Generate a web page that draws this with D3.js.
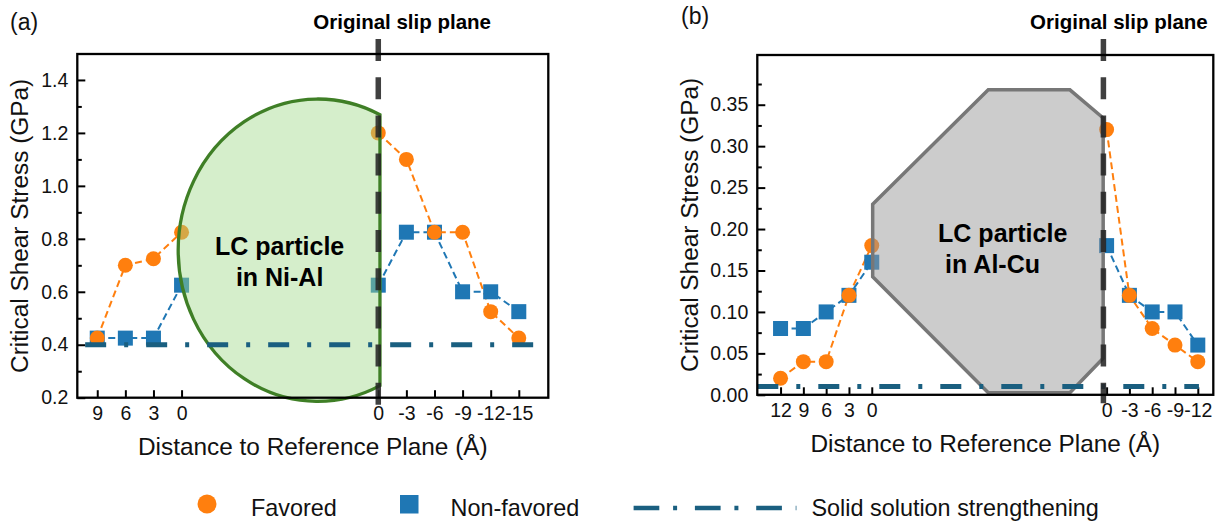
<!DOCTYPE html>
<html>
<head>
<meta charset="utf-8">
<script src="https://cdn.jsdelivr.net/npm/d3@7"></script>
<style>
  body { margin: 0; background: #fff; }
  svg { display: block; font-family: "Liberation Sans", Arial, sans-serif; }
</style>
</head>
<body>
<div id="chart"></div>
<script>
var WIDTH = 1220;
var HEIGHT = 522;

var ORANGE = "#ff7f0e";
var BLUE = "#1f77b4";
var SS_COLOR = "#1a5f80";

// panel (a) : Ni-Al
var distA = [9, 6, 3, 0, 0, -3, -6, -9, -12, -15];
var sideA = ["L", "L", "L", "L", "R", "R", "R", "R", "R", "R"];
var favoredA = [0.425, 0.70, 0.725, 0.825, 1.20, 1.10, 0.825, 0.825, 0.525, 0.425];
var nonFavoredA = [0.425, 0.425, 0.425, 0.625, 0.625, 0.825, 0.825, 0.60, 0.60, 0.525];
var yTicksA = [0.2, 0.4, 0.6, 0.8, 1.0, 1.2, 1.4];
var yMinorA = [0.3, 0.5, 0.7, 0.9, 1.1, 1.3];
var solidA = 0.40;

// panel (b) : Al-Cu
var distB = [12, 9, 6, 3, 0, 0, -3, -6, -9, -12];
var sideB = ["L", "L", "L", "L", "L", "R", "R", "R", "R", "R"];
var favoredB = [0.02, 0.04, 0.04, 0.12, 0.18, 0.32, 0.12, 0.08, 0.06, 0.04];
var nonFavoredB = [0.08, 0.08, 0.10, 0.12, 0.16, 0.18, 0.12, 0.10, 0.10, 0.06];
var yTicksB = [0, 0.05, 0.10, 0.15, 0.20, 0.25, 0.30, 0.35];
var yMinorB = [0.025, 0.075, 0.125, 0.175, 0.225, 0.275, 0.325, 0.375];
var solidB = 0.01;

// particle outlines, in (slot, GPa)
var octagonB = [[4.04, 0.230], [9.11, 0.368], [12.69, 0.368], [14.15, 0.334],
                [14.15, 0.044], [12.69, 0.0025], [9.11, 0.0025], [4.04, 0.1425]];

var legendItems = ["Favored", "Non-favored", "Solid solution strengthening"];

var svg = d3.select("#chart").append("svg")
    .attr("width", WIDTH)
    .attr("height", HEIGHT);

// left group goes 0,1,2.. from the largest distance, right group starts at rightStart
function slotOf(d, side, leftMax, rightStart) {
    return side === "L" ? (leftMax - d) / 3 : rightStart - d / 3;
}

function drawPanel(cfg) {
    var x = d3.scaleLinear().domain(cfg.xDomain).range([cfg.left, cfg.right]);
    var y = d3.scaleLinear().domain(cfg.yDomain).range([cfg.bottom, cfg.top]);
    var g = svg.append("g");

    var slots = cfg.dist.map(function(d, i) {
        return slotOf(d, cfg.side[i], cfg.dist[0], cfg.rightStart);
    });

    // y axis, inward ticks
    var ya = g.append("g").attr("transform", "translate(" + cfg.left + ",0)")
        .call(d3.axisLeft(y).tickValues(cfg.yTicks).tickSize(-8).tickPadding(9)
            .tickFormat(d3.format(cfg.yFmt)));
    var ym = g.append("g").attr("transform", "translate(" + cfg.left + ",0)")
        .call(d3.axisLeft(y).tickValues(cfg.yMinor).tickSize(-4.5).tickFormat(""));

    var xa = g.append("g").attr("transform", "translate(0," + cfg.bottom + ")")
        .call(d3.axisBottom(x).tickValues(slots).tickSize(-7.5).tickPadding(8)
            .tickFormat(function(d, i) { return String(cfg.dist[i]).replace("-", "-"); }));

    [ya, ym, xa].forEach(function(a) {
        a.select(".domain").remove();
        a.selectAll(".tick line").attr("stroke", "#000").attr("stroke-width", 2);
        a.selectAll("text").attr("fill", "#111").style("font-size", "19.5px");
    });

    // series: dashed lines per side, then markers
    var series = [
        {vals: cfg.fav, color: ORANGE, shape: "circle"},
        {vals: cfg.non, color: BLUE, shape: "square"}
    ];
    var line = d3.line().x(function(d) { return x(d[0]); }).y(function(d) { return y(d[1]); });

    series.forEach(function(s) {
        ["L", "R"].forEach(function(side) {
            var pts = [];
            s.vals.forEach(function(v, i) { if (cfg.side[i] === side) pts.push([slots[i], v]); });
            g.append("path").attr("d", line(pts))
                .attr("fill", "none").attr("stroke", s.color)
                .attr("stroke-width", 2).attr("stroke-dasharray", "7,4");
        });
    });
    // blue first so orange sits on top where they meet
    series.slice().reverse().forEach(function(s) {
        s.vals.forEach(function(v, i) {
            if (s.shape === "circle") {
                g.append("circle").attr("cx", x(slots[i])).attr("cy", y(v))
                    .attr("r", 7.5).attr("fill", s.color);
            } else {
                g.append("rect").attr("x", x(slots[i]) - 7.5).attr("y", y(v) - 7.5)
                    .attr("width", 15).attr("height", 15).attr("fill", s.color);
            }
        });
    });

    // particle
    if (cfg.ellipse) {
        var e = cfg.ellipse;
        var cx = x(e.cx), cy = y(e.cy);
        var rx = x(e.cx + e.rx) - cx, ry = y(e.cy - e.ry) - cy;
        var xc = x(e.cut);
        var t = (xc - cx) / rx;
        var h = ry * Math.sqrt(1 - t * t);
        g.append("path")
            .attr("d", "M" + xc + "," + (cy - h) + " A" + rx + "," + ry + " 0 1 0 " + xc + "," + (cy + h) + " Z")
            .attr("fill", "#a2d98b").attr("fill-opacity", 0.45)
            .attr("stroke", "#3f7f26").attr("stroke-width", 3.3);
    }
    if (cfg.polygon) {
        g.append("path")
            .attr("d", d3.line().x(function(d) { return x(d[0]); }).y(function(d) { return y(d[1]); })(cfg.polygon) + "Z")
            .attr("fill", "#999").attr("fill-opacity", 0.5)
            .attr("stroke", "#777").attr("stroke-width", 3.5).attr("stroke-linejoin", "miter");
    }

    // particle label
    var lt = g.append("text")
        .attr("x", x(cfg.lcX)).attr("y", y(cfg.lcY))
        .attr("text-anchor", cfg.lcAnchor)
        .style("font-size", "25px").style("font-weight", "bold").attr("fill", "#000");
    lt.append("tspan").attr("x", x(cfg.lcX)).text("LC particle");
    lt.append("tspan").attr("x", x(cfg.lcX) + cfg.lcIndent).attr("dy", 31).text(cfg.lcName);

    // solid solution strengthening level
    g.append("line")
        .attr("x1", x(cfg.ssFrom)).attr("x2", x(cfg.ssTo))
        .attr("y1", y(cfg.solid)).attr("y2", y(cfg.solid))
        .attr("stroke", SS_COLOR).attr("stroke-width", 5)
        .attr("stroke-dasharray", "21,18,4,18");

    // original slip plane
    g.append("line")
        .attr("x1", x(cfg.slip)).attr("x2", x(cfg.slip))
        .attr("y1", 39).attr("y2", cfg.bottom + 8.5)
        .attr("stroke", "#262626").attr("stroke-opacity", 0.88)
        .attr("stroke-width", 5.5).attr("stroke-dasharray", "22,16.2");

    g.append("text").attr("x", x(cfg.slipLabelX)).attr("y", 28.5)
        .attr("text-anchor", "middle")
        .style("font-size", "20.5px").style("font-weight", "bold")
        .text("Original slip plane");

    // frame
    g.append("rect")
        .attr("x", cfg.left).attr("y", cfg.top)
        .attr("width", cfg.right - cfg.left).attr("height", cfg.bottom - cfg.top)
        .attr("fill", "none").attr("stroke", "#000").attr("stroke-width", 2.3);

    // axis titles
    g.append("text")
        .attr("transform", "translate(" + cfg.yTitleX + "," + ((cfg.top + cfg.bottom) / 2) + ") rotate(-90)")
        .attr("text-anchor", "middle").style("font-size", "24.4px").attr("fill", "#111")
        .text("Critical Shear Stress (GPa)");
    g.append("text")
        .attr("x", (cfg.left + cfg.right) / 2).attr("y", cfg.bottom + 57)
        .attr("text-anchor", "middle").style("font-size", "24.4px").attr("fill", "#111")
        .text("Distance to Reference Plane (\u00C5)");

    g.append("text").attr("x", cfg.tagX).attr("y", cfg.tagY)
        .style("font-size", "23px").attr("fill", "#111").text(cfg.tag);
}

drawPanel({
    left: 77.3, right: 548.3, top: 54, bottom: 397.7,
    xDomain: [-0.71, 16.05], yDomain: [0.2, 1.498],
    dist: distA, side: sideA, rightStart: 10,
    fav: favoredA, non: nonFavoredA,
    yTicks: yTicksA, yMinor: yMinorA, yFmt: ".1f",
    solid: solidA, ssFrom: -0.43, ssTo: 16.05,
    slip: 10, slipLabelX: 10.85,
    ellipse: {cx: 7.85, cy: 0.757, rx: 4.97, ry: 0.571, cut: 10.06},
    lcX: 6.49, lcY: 0.739, lcAnchor: "middle", lcIndent: 0, lcName: "in Ni-Al",
    yTitleX: 28, tag: "(a)", tagX: 10, tagY: 30
});

drawPanel({
    left: 757.3, right: 1213.3, top: 55, bottom: 394.8,
    xDomain: [-1.02, 18.98], yDomain: [0, 0.41],
    dist: distB, side: sideB, rightStart: 14.3,
    fav: favoredB, non: nonFavoredB,
    yTicks: yTicksB, yMinor: yMinorB, yFmt: ".2f",
    solid: solidB, ssFrom: -1.02, ssTo: 18.35,
    slip: 14.16, slipLabelX: 14.84,
    polygon: octagonB,
    lcX: 6.91, lcY: 0.1838, lcAnchor: "start", lcIndent: 7, lcName: "in Al-Cu",
    yTitleX: 698, tag: "(b)", tagX: 681, tagY: 24
});

// legend
var leg = svg.append("g");
leg.append("circle").attr("cx", 207).attr("cy", 504).attr("r", 9.5).attr("fill", ORANGE);
leg.append("rect").attr("x", 400).attr("y", 495).attr("width", 18.5).attr("height", 18.5).attr("fill", BLUE);
leg.append("line").attr("x1", 633.6).attr("x2", 796.4).attr("y1", 508).attr("y2", 508)
    .attr("stroke", SS_COLOR).attr("stroke-width", 4.7)
    .attr("stroke-dasharray", "25.7,13.8,4,17.8");
var legX = [251, 450.6, 811.5];
legendItems.forEach(function(t, i) {
    leg.append("text").attr("x", legX[i]).attr("y", 515.5)
        .style("font-size", "23.4px").attr("fill", "#111").text(t);
});
</script>
</body>
</html>
